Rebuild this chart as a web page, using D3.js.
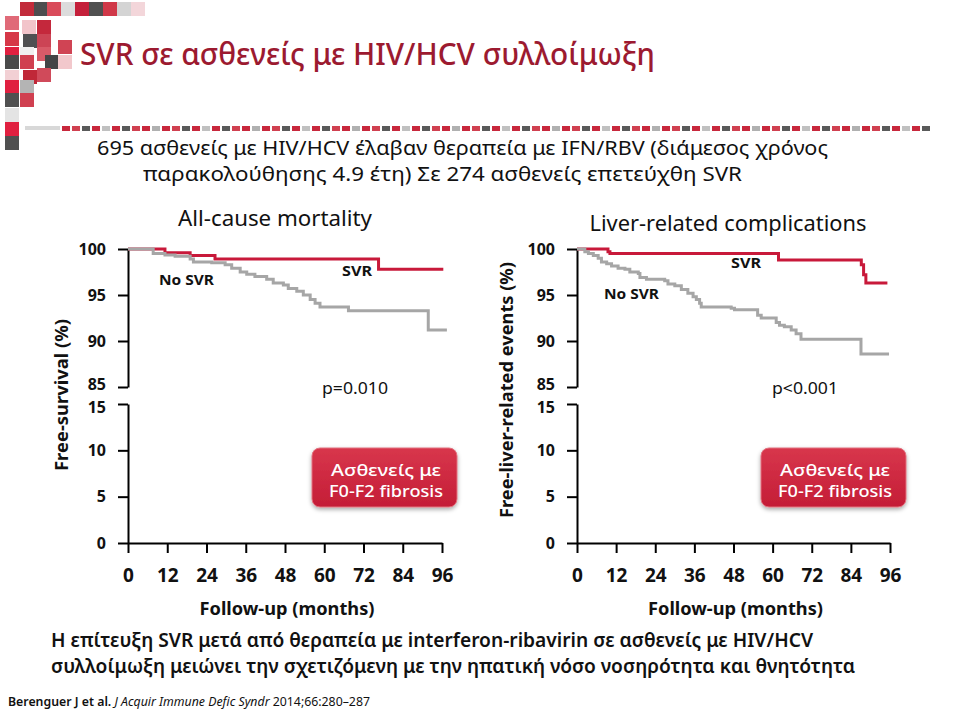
<!DOCTYPE html>
<html><head><meta charset="utf-8">
<script src="https://cdn.jsdelivr.net/npm/d3@7"></script>
<style>body{margin:0;background:#fff}svg{display:block}</style>
</head><body><svg id="c" width="960" height="716"></svg>
<script>
// ---------- DATA ----------
const months = [0, 12, 24, 36, 48, 60, 72, 84, 96];
const upperTicks = [85, 90, 95, 100];
const lowerTicks = [0, 5, 10, 15];

// All-cause mortality
const mortSvrT = [0, 11.3, 19.0, 26.6, 76.6, 96.4];
const mortSvrS = [100, 99.6, 99.3, 98.9, 97.8, 97.8];
const mortNoT = [0, 7.7, 11.3, 14.4, 19.0, 20.0, 25.6, 29.7, 31.7, 34.3, 36.3, 38.8, 42.4, 44.4, 47.5, 49.0, 51.6, 53.6, 55.7, 57.2, 58.7, 67.4, 91.8, 97.5];
const mortNoS = [100, 99.5, 99.35, 99.2, 98.9, 98.6, 98.5, 98.3, 97.9, 97.5, 97.25, 97.0, 96.7, 96.3, 96.1, 95.7, 95.4, 95.0, 94.5, 94.1, 93.7, 93.3, 91.2, 91.2];

// Liver-related complications
const livSvrT = [0, 9.5, 10.1, 61.8, 87.2, 87.9, 88.6, 95.2];
const livSvrS = [100, 99.7, 99.5, 98.8, 98.3, 97.2, 96.3, 96.3];
const livNoT = [0, 2.4, 3.5, 5.0, 6.5, 7.5, 9.1, 10.6, 12.6, 14.7, 16.2, 18.8, 19.3, 21.3, 26.9, 27.9, 30.0, 32.0, 34.0, 35.6, 36.6, 37.6, 38.1, 47.3, 48.3, 55.4, 56.5, 61.1, 62.1, 63.6, 65.7, 67.2, 68.7, 87.1, 95.7];
const livNoS = [100, 99.7, 99.5, 99.3, 99.0, 98.6, 98.4, 98.15, 97.9, 97.8, 97.5, 97.35, 96.9, 96.7, 96.55, 96.2, 96.0, 95.6, 95.2, 94.8, 94.5, 94.1, 93.7, 93.55, 93.4, 92.8, 92.5, 92.0, 91.7, 91.55, 91.2, 90.8, 90.2, 88.6, 88.6];

const title = "SVR σε ασθενείς με HIV/HCV συλλοίμωξη";
const subtitle1 = "695 ασθενείς με HIV/HCV έλαβαν θεραπεία με IFN/RBV (διάμεσος χρόνος";
const subtitle2 = "παρακολούθησης 4.9 έτη)  Σε 274 ασθενείς επετεύχθη SVR";
const panelTitles = ["All-cause mortality", "Liver-related complications"];
const yTitles = ["Free-survival (%)", "Free-liver-related events (%)"];
const pValues = ["p=0.010", "p<0.001"];
const boxLines = ["Ασθενείς  με", "F0-F2 fibrosis"];
const xTitle = "Follow-up (months)";
const concl1 = "Η επίτευξη SVR μετά από θεραπεία με interferon-ribavirin σε ασθενείς με HIV/HCV";
const concl2 = "συλλοίμωξη μειώνει την σχετιζόμενη με την ηπατική νόσο νοσηρότητα και θνητότητα";

// ---------- DRAW ----------
const FONT = "'Noto Sans','Open Sans',sans-serif";
const RED = "#c8193a", GREY = "#a6a6a6", TITLE_RED = "#9c1a30";
const svg = d3.select("#c").style("font-family", FONT);
const defs = svg.append("defs");
const gr = defs.append("linearGradient").attr("id","boxg").attr("x1",0).attr("y1",0).attr("x2",0).attr("y2",1);
gr.append("stop").attr("offset","0").attr("stop-color","#d8364c");
gr.append("stop").attr("offset","1").attr("stop-color","#c41d36");
const f = defs.append("filter").attr("id","sh").attr("x","-20%").attr("y","-20%").attr("width","140%").attr("height","150%");
f.append("feDropShadow").attr("dx",0).attr("dy",2).attr("stdDeviation",2).attr("flood-color","#000").attr("flood-opacity",0.35);

// decoration: pixel squares
const deco = svg.append("g");
const cells = [
 [20,2,"#c22b3b"],[34,2,"#4d4d4f"],[47,2,"#d94b5a"],[61,2,"#dcdcdc"],[75,2,"#c4203a"],[89,2,"#505050"],[103,2,"#d03848"],[117,2,"#d4d4d4"],[131,2,"#f3d6da"],
 [5,16,"#e06a78"],[22,20,"#f2c4ca"],[37,20,"#c4283c"],
 [5,32,"#d63848"],[23,34,"#505052"],[37,34,"#cc4455"],[58,40,"#d04454"],
 [5,47,"#e02040"],[20,47,"#f0f0f0"],[37,47,"#d85a68"],
 [5,55,"#4a4a4a"],[20,55,"#d04050"],[45,55,"#444446"],[58,55,"#f2c8cc"],
 [5,70,"#f2d0d4"],[23,70,"#c02838"],[37,68,"#d04a5a"],
 [5,80,"#e02040"],[20,80,"#b4b4b4"],
 [5,93,"#505050"],[20,93,"#d04050"],
 [5,108,"#e4e4e4"],[5,122,"#e02040"],[5,136,"#505050"]
];
cells.forEach(c => deco.append("rect").attr("x",c[0]).attr("y",c[1]).attr("width",14).attr("height",14).attr("fill",c[2]));
const bandCols = ["#c8283c","#d04050","#5a5a5a","#c8283c","#c0c0c0","#c8283c","#5a5a5a","#d04050","#c8283c","#b0b0b0"];
deco.append("rect").attr("x",25).attr("y",126).attr("width",35).attr("height",4).attr("fill","#d8d8d8");
for (let x = 62, i = 0; x < 930; x += 10, i++) {
  deco.append("rect").attr("x",x).attr("y",126).attr("width",8).attr("height",5).attr("fill",bandCols[i % bandCols.length]);
}

// titles
svg.append("text").attr("x",80).attr("y",65).attr("font-size",31).attr("font-weight",500).attr("fill",TITLE_RED)
  .attr("textLength",575).attr("lengthAdjust","spacingAndGlyphs").text(title);
svg.append("text").attr("x",97).attr("y",155).attr("font-size",19).attr("fill","#111")
  .attr("textLength",731).attr("lengthAdjust","spacingAndGlyphs").text(subtitle1);
svg.append("text").attr("x",143).attr("y",181).attr("font-size",19).attr("fill","#111")
  .attr("textLength",599).attr("lengthAdjust","spacingAndGlyphs").text(subtitle2);

const yU = d3.scaleLinear().domain([85,100]).range([387,249]);
const yL = d3.scaleLinear().domain([0,15]).range([543,404]);

const panels = [
  {ax:128, x1:442, svrT:mortSvrT, svrS:mortSvrS, noT:mortNoT, noS:mortNoS,
   title:{x:275,y:226,len:194}, ytitle:{x:68,y:395,len:152},
   svrLab:{x:342,y:276}, noLab:{x:159,y:285}, p:{x:322,y:394}, box:{x:312,y:448}},
  {ax:577, x1:890, svrT:livSvrT, svrS:livSvrS, noT:livNoT, noS:livNoS,
   title:{x:728,y:231,len:277}, ytitle:{x:513,y:390,len:256},
   svrLab:{x:731,y:268}, noLab:{x:604,y:299}, p:{x:772,y:394}, box:{x:761,y:448}}
];

panels.forEach((p, i) => {
  const g = svg.append("g");
  const x = d3.scaleLinear().domain([0,96]).range([p.ax, p.x1]);
  const styleAxis = sel => {
    sel.selectAll("path,line").attr("stroke","#000").attr("stroke-width",2);
    sel.selectAll("text").attr("font-family",FONT).attr("font-weight","bold").attr("fill","#111");
  };
  g.append("g").attr("transform",`translate(${p.ax},0)`)
    .call(d3.axisLeft(yU).tickValues(upperTicks).tickSize(10).tickSizeOuter(0).tickPadding(12))
    .call(styleAxis).selectAll("text").attr("font-size",16)
    .attr("transform", d => d === 85 ? "translate(0,-3)" : null);
  g.append("g").attr("transform",`translate(${p.ax},0)`)
    .call(d3.axisLeft(yL).tickValues(lowerTicks).tickSize(10).tickSizeOuter(0).tickPadding(12))
    .call(styleAxis).selectAll("text").attr("font-size",16)
    .attr("transform", d => d === 15 ? "translate(0,3)" : null);
  g.append("g").attr("transform","translate(0,543)")
    .call(d3.axisBottom(x).tickValues(months).tickSize(10).tickSizeOuter(0).tickPadding(16))
    .call(styleAxis).selectAll("text").attr("font-size",19);

  const line = d3.line().curve(d3.curveStepAfter).x(d => x(d[0])).y(d => yU(d[1]));
  const svr = p.svrT.map((t,k) => [t, p.svrS[k]]);
  const no = p.noT.map((t,k) => [t, p.noS[k]]);
  g.append("path").attr("d", line(svr)).attr("fill","none").attr("stroke",RED).attr("stroke-width",3);
  g.append("path").attr("d", line(no)).attr("fill","none").attr("stroke",GREY).attr("stroke-width",3);

  g.append("text").attr("x",p.title.x).attr("y",p.title.y).attr("text-anchor","middle").attr("font-size",22).attr("fill","#111")
    .attr("textLength",p.title.len).attr("lengthAdjust","spacingAndGlyphs").text(panelTitles[i]);
  g.append("text").attr("transform",`translate(${p.ytitle.x},${p.ytitle.y}) rotate(-90)`).attr("text-anchor","middle")
    .attr("font-size",17).attr("font-weight","bold").attr("fill","#111")
    .attr("textLength",p.ytitle.len).attr("lengthAdjust","spacingAndGlyphs").text(yTitles[i]);
  g.append("text").attr("x",(p.ax+p.x1)/2+2).attr("y",615).attr("text-anchor","middle").attr("font-size",17)
    .attr("font-weight","bold").attr("fill","#111").attr("textLength",175).attr("lengthAdjust","spacingAndGlyphs").text(xTitle);
  g.append("text").attr("x",p.svrLab.x).attr("y",p.svrLab.y).attr("font-size",15).attr("font-weight","bold").attr("fill","#111")
    .attr("textLength",30).attr("lengthAdjust","spacingAndGlyphs").text("SVR");
  g.append("text").attr("x",p.noLab.x).attr("y",p.noLab.y).attr("font-size",15).attr("font-weight","bold").attr("fill","#111")
    .attr("textLength",55).attr("lengthAdjust","spacingAndGlyphs").text("No SVR");
  g.append("text").attr("x",p.p.x).attr("y",p.p.y).attr("font-size",16).attr("fill","#111")
    .attr("textLength",66).attr("lengthAdjust","spacingAndGlyphs").text(pValues[i]);

  const b = g.append("g").attr("transform",`translate(${p.box.x},${p.box.y})`);
  b.append("rect").attr("width",145).attr("height",59).attr("rx",8).attr("fill","url(#boxg)")
    .attr("stroke","#e2707e").attr("stroke-width",1).attr("filter","url(#sh)");
  b.append("text").attr("x",74).attr("y",28).attr("text-anchor","middle").attr("font-size",17).attr("font-weight",500).attr("fill","#fff")
    .attr("textLength",110).attr("lengthAdjust","spacingAndGlyphs").text(boxLines[0]);
  b.append("text").attr("x",74).attr("y",49).attr("text-anchor","middle").attr("font-size",17).attr("font-weight",500).attr("fill","#fff")
    .attr("textLength",114).attr("lengthAdjust","spacingAndGlyphs").text(boxLines[1]);
});

// conclusion
svg.append("text").attr("x",51).attr("y",647).attr("font-size",19).attr("font-weight",600).attr("fill","#111")
  .attr("textLength",762).attr("lengthAdjust","spacingAndGlyphs").text(concl1);
svg.append("text").attr("x",51).attr("y",673).attr("font-size",19).attr("font-weight",600).attr("fill","#111")
  .attr("textLength",804).attr("lengthAdjust","spacingAndGlyphs").text(concl2);

// citation
const cit = svg.append("text").attr("x",8).attr("y",706).attr("font-size",13).attr("fill","#111")
  .attr("textLength",362).attr("lengthAdjust","spacingAndGlyphs");
cit.append("tspan").attr("font-weight",600).text("Berenguer J et al. ");
cit.append("tspan").attr("font-style","italic").text("J Acquir Immune Defic Syndr");
cit.append("tspan").text(" 2014;66:280–287");
</script></body></html>
